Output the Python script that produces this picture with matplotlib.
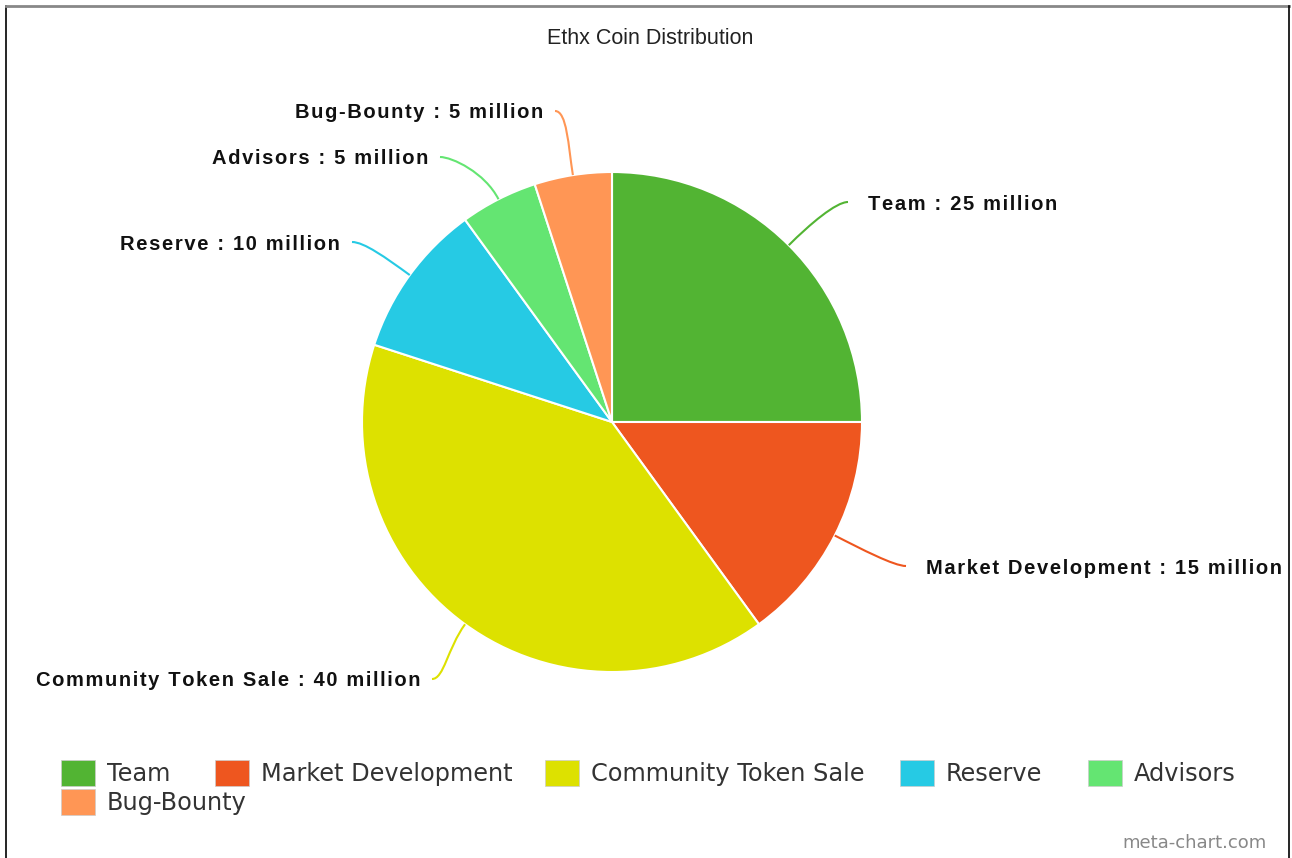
import matplotlib
matplotlib.use("Agg")
import matplotlib.pyplot as plt
import numpy as np
from matplotlib.path import Path
from matplotlib.patches import PathPatch, Rectangle

# data
labels = ["Team", "Market Development", "Community Token Sale", "Reserve", "Advisors", "Bug-Bounty"]
values = [25, 15, 40, 10, 5, 5]
colors = ["#52B433", "#EE561F", "#DDE100", "#26CAE4", "#64E572", "#FF9655"]

# label anchor points (pixels, y from top) and alignment
label_end = [(848, 202), (906, 566), (432, 679), (352, 242), (440, 157), (555, 111)]
label_side = ["left", "left", "right", "right", "right", "right"]

W, H = 1292, 858
cx, cy, R = 612, 422, 250


def spaced(s):
    # rough letter spacing like the original renderer
    return "\u200a".join(s)


fig = plt.figure(figsize=(W / 100, H / 100), dpi=100)
ax = fig.add_axes([0, 0, 1, 1])

wedges, _ = ax.pie(values, colors=colors, startangle=90, counterclock=False,
                   center=(cx, H - cy), radius=R,
                   wedgeprops=dict(edgecolor="white", linewidth=1.5))
ax.set_xlim(0, W)
ax.set_ylim(0, H)
ax.set_aspect("equal")
ax.axis("off")

# leader lines + labels
total = sum(values)
start = 0
for lab, v, col, (ex, ey), side in zip(labels, values, colors, label_end, label_side):
    mid = 90 - 360 * (start + v / 2) / total
    start += v
    a = np.deg2rad(mid)
    p0 = (cx + R * np.cos(a), H - cy + R * np.sin(a))
    p1 = (cx + (R + 30) * np.cos(a), H - cy + (R + 30) * np.sin(a))
    p3 = (ex, H - ey)
    dx = -12 if side == "left" else 12
    p2 = (ex + dx, H - ey)
    path = Path([p0, p1, p2, p3], [Path.MOVETO, Path.CURVE4, Path.CURVE4, Path.CURVE4])
    ax.add_patch(PathPatch(path, facecolor="none", edgecolor=col, lw=1.5))
    txt = spaced(f"{lab} : {v} million")
    tx = ex + 20 if side == "left" else ex - 12
    ax.text(tx, H - ey - 2, txt, ha=side, va="center", fontsize=14.5,
            fontweight="bold", family=["Liberation Sans", "DejaVu Sans"], color="#111111")

ax.text(650, H - 39, "Ethx Coin Distribution", ha="center", va="center",
        fontsize=15.5, family="Liberation Sans", color="#222222")

# legend (manual layout to match spacing)
leg_x = [61, 215, 545, 900, 1088, 61]
leg_y = [773, 773, 773, 773, 773, 802]
for lab, col, lx, ly in zip(labels, colors, leg_x, leg_y):
    ax.add_patch(Rectangle((lx, H - ly - 13), 34, 26, facecolor=col,
                           edgecolor="#cccccc", lw=0.5))
    ax.text(lx + 46, H - ly - 1, lab, ha="left", va="center", fontsize=17.3,
            family="DejaVu Sans", color="#333333")

ax.text(1267, H - 843, "meta-chart.com", ha="right", va="center", fontsize=13,
        family="DejaVu Sans", color="#888888")

# frame
ax.plot([6, 6], [0, H - 6], color="black", lw=1.2)
ax.plot([6, 1289], [H - 6, H - 6], color="#888888", lw=2)
ax.plot([1289, 1289], [0, H - 6], color="black", lw=1.2)

fig.savefig("out.png", dpi=100)
